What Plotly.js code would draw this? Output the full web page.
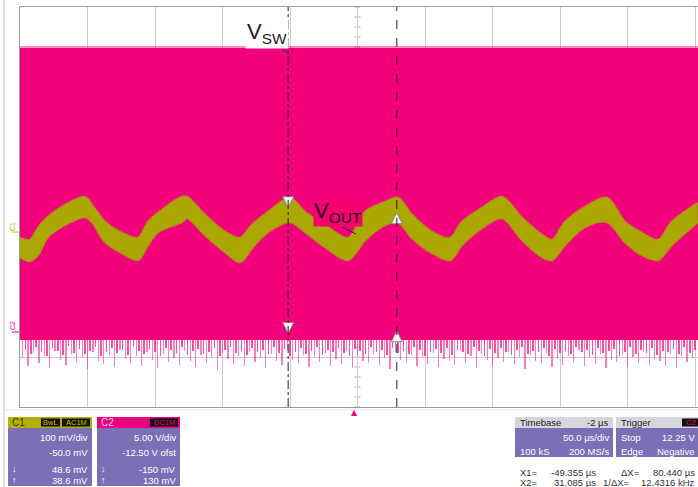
<!DOCTYPE html>
<html><head><meta charset="utf-8">
<script src="https://cdn.plot.ly/plotly-3.0.1.min.js"></script>
<style>html,body{margin:0;padding:0;background:#fff;}#chart{width:698px;height:487px;}</style>
</head><body><div id="chart"></div>
<script>
// ---------------- data ----------------
// time axis in microseconds, 50 us/div, trigger delay -2 us
const timeRange = [-248, 254.2];
// C1 : VOUT (mV) noisy band, upper and lower edges
const voutTime  = [-248,-240.6,-234.7,-227.3,-214.7,-199.9,-194.7,-185.0,-172.4,-160.6,-153.2,-145.8,-128.0,-124.3,-111.0,-96.1,-85.0,-76.1,-64.3,-48.0,-36.9,-22.1,-5.0,7.6,22.4,32.0,42.4,57.2,70.5,79.4,94.2,109.0,123.9,138.7,146.1,155.7,170.5,186.8,200.1,212.7,224.6,234.8,254];
const voutUpper = [-12,-16,8,30,54,70,54,20,-2,-12,20,38,70,70,34,0,-12,14,40,68,40,14,-12,40,60,68,34,0,-12,20,48,70,28,-6,-16,20,50,68,20,-2,-16,20,58];
const voutLower = [-50,-58,-46,-10,14,30,20,-20,-42,-56,-26,0,20,28,-6,-40,-60,-32,0,20,0,-30,-56,-16,14,20,-12,-42,-56,-26,8,28,-16,-50,-56,-26,10,20,-20,-46,-56,-26,20];
// C2 : VSW (V) switching envelope
const vswHigh = 28.4;
const vswLow  = -0.8;
// ringing spikes below the low level (V), one per acquisition slot
const spikeStart = -246, spikeStep = 4;
const vswSpikes = [
-2.6,-3.4,-2.1,-3.1,-2.4,-3.6,-1.9,-2.8,-3.3,-2.2,
-3.0,-2.5,-3.7,-2.0,-2.9,-3.2,-2.3,-3.5,-1.8,-2.7,
-3.1,-2.4,-3.4,-2.0,-2.8,-3.6,-2.2,-3.0,-2.6,-3.3,
-1.9,-2.9,-3.5,-2.3,-3.1,-2.5,-3.8,-2.1,-2.7,-3.2,
-2.4,-3.4,-2.0,-3.0,-2.6,-3.6,-2.2,-2.9,-3.3,-1.8,
-2.8,-3.1,-2.3,-3.5,-2.5,-3.0,-2.1,-3.4,-2.7,-3.2,
-1.9,-3.6,-2.4,-2.9,-3.1,-2.2,-3.3,-2.6,-3.7,-2.0,
-2.8,-3.0,-2.3,-3.4,-2.5,-3.2,-2.1,-3.5,-2.7,-2.9,
-3.3,-1.9,-3.1,-2.4,-3.6,-2.2,-2.8,-3.4,-2.6,-3.0,
-2.0,-3.2,-2.5,-3.7,-2.3,-2.9,-3.1,-2.1,-3.5,-2.7,
-3.3,-2.4,-3.0,-1.8,-3.4,-2.6,-3.2,-2.2,-3.6,-2.8,
-3.0,-2.3,-3.5,-2.5,-3.1,-2.0,-3.3,-2.7,-2.9,-3.4,
-2.2,-3.6,-2.4,-3.0,-2.6];
// shorter, denser ringing between the long spikes (V)
const vswSpikes2 = [
-1.8,-2.2,-1.5,-2.0,-2.4,-1.6,-1.9,-2.3,-1.4,-2.1,
-1.7,-2.2,-1.9,-1.5,-2.4,-2.0,-1.6,-2.1,-1.8,-2.3,
-1.5,-1.9,-2.2,-1.7,-2.0,-2.4,-1.6,-1.8,-2.1,-1.5,
-2.3,-1.9,-1.7,-2.2,-2.0,-1.6,-2.4,-1.8,-1.5,-2.1,
-1.9,-2.3,-1.6,-2.0,-1.8,-2.2,-1.5,-2.1,-1.7,-2.4,
-2.0,-1.6,-2.2,-1.9,-1.5,-2.3,-1.8,-2.0,-1.6,-2.1,
-2.4,-1.7,-1.9,-2.2,-1.5,-2.0,-1.8,-2.3,-1.6,-2.1,
-1.9,-2.2,-1.5,-1.8,-2.4,-2.0,-1.7,-2.1,-1.6,-2.3,
-1.8,-2.0,-2.2,-1.5,-1.9,-2.4,-1.7,-2.1,-1.6,-2.0,
-2.3,-1.8,-1.5,-2.2,-1.9,-2.0,-1.6,-2.4,-1.7,-2.1,
-1.9,-2.2,-1.5,-2.0,-1.8,-2.3,-1.6,-2.1,-1.9,-1.7,
-2.4,-2.0,-1.5,-2.2,-1.8,-2.1,-1.6,-2.3,-1.9,-2.0,
-1.7,-2.2,-1.5,-2.1,-1.8];
// cursors
const cursorTimes = [-49.355, 31.085];          // X1, X2 (us)
const cursorC1 = [48.6, 38.6];                    // mV
const cursorC2 = [-0.150, 0.130];                 // V
const triggerTime = 0;
// panel texts
const c1Info = ["100 mV/div", "-50.0 mV", "48.6 mV", "38.6 mV"];
const c2Info = ["5.00 V/div", "-12.50 V ofst", "-150 mV", "130 mV"];
const tbInfo = ["Timebase", "-2 µs", "50.0 µs/div", "100 kS", "200 MS/s"];
const trInfo = ["Trigger", "C2", "Stop", "12.25 V", "Edge", "Negative"];
const readout = ["X1=", "-49.355 µs", "ΔX=", "80.440 µs", "X2=", "31.085 µs", "1/ΔX=", "12.4316 kHz"];

// ---------------- styling ----------------
const MAG = '#f2007c', YEL = '#aaa800', PURP = '#7a70b6', FONT = 'Liberation Sans, Arial, sans-serif';
const W = 678, H = 400, L = 20, T = 7;
const px = x => (x - L) / W;
const py = y => (T + H - y) / H;

const spikeX = vswSpikes.map((_, i) => spikeStart + i * spikeStep);
const spikeY = vswSpikes.map(v => v - vswLow);
const spike2X = vswSpikes2.map((_, i) => spikeStart + spikeStep / 2 + i * spikeStep);
const spike2Y = vswSpikes2.map(v => v - vswLow);

const traces = [
  { x: [timeRange[0], timeRange[1], timeRange[1], timeRange[0]], y: [vswLow, vswLow, vswHigh, vswHigh],
    type: 'scatter', mode: 'lines', fill: 'toself', fillcolor: MAG, line: {color: MAG, width: 0}, yaxis: 'y', hoverinfo: 'skip' },
  { x: [timeRange[0], timeRange[1]], y: [vswHigh, vswHigh], type: 'scatter', mode: 'lines',
    line: {color: 'rgba(242,0,124,0.45)', width: 4}, yaxis: 'y', hoverinfo: 'skip' },
  { x: spike2X, y: spike2Y, base: vswLow, type: 'bar', width: 1.3, marker: {color: 'rgba(242,0,124,0.7)', line: {width: 0}},
    yaxis: 'y', hoverinfo: 'skip' },
  { x: spikeX, y: spikeY, base: vswLow, type: 'bar', width: 0.9, marker: {color: 'rgba(242,0,124,0.5)', line: {width: 0}},
    yaxis: 'y', hoverinfo: 'skip' },
  { x: [cursorTimes[0]], y: [cursorC2[0]], type: 'scatter', mode: 'markers', yaxis: 'y', hoverinfo: 'skip',
    marker: {symbol: 'arrow-down', size: 11, color: '#f0f0f0', line: {color: '#8a8a8a', width: 1}} },
  { x: [cursorTimes[1]], y: [cursorC2[1]], type: 'scatter', mode: 'markers', yaxis: 'y', hoverinfo: 'skip',
    marker: {symbol: 'arrow-up', size: 11, color: '#f0f0f0', line: {color: '#8a8a8a', width: 1}} },
  { x: voutTime, y: voutUpper, type: 'scatter', mode: 'lines', line: {color: 'rgba(170,168,0,0.8)', width: 2.5, shape: 'spline', smoothing: 0.9}, yaxis: 'y2', hoverinfo: 'skip' },
  { x: voutTime, y: voutLower, type: 'scatter', mode: 'lines', fill: 'tonexty', fillcolor: YEL,
    line: {color: 'rgba(170,168,0,0.8)', width: 2.5, shape: 'spline', smoothing: 0.9}, yaxis: 'y2', hoverinfo: 'skip' },
  { x: [cursorTimes[0]], y: [cursorC1[0]], type: 'scatter', mode: 'markers', yaxis: 'y2', hoverinfo: 'skip',
    marker: {symbol: 'arrow-down', size: 11, color: '#f0f0f0', line: {color: '#8a8a8a', width: 1}} },
  { x: [cursorTimes[1]], y: [cursorC1[1]], type: 'scatter', mode: 'markers', yaxis: 'y2', hoverinfo: 'skip',
    marker: {symbol: 'arrow-up', size: 11, color: '#f0f0f0', line: {color: '#8a8a8a', width: 1}} }
];

const shapes = [];
const ann = [];
function rect(x0, y0, x1, y1, fill) {
  shapes.push({type: 'rect', xref: 'paper', yref: 'paper', x0: px(x0), x1: px(x1), y0: py(y0), y1: py(y1),
    fillcolor: fill, line: {width: 0}, layer: 'above'});
}
function txt(s, x, y, anchor, color, size, extra) {
  ann.push(Object.assign({text: s, xref: 'paper', yref: 'paper', x: px(x), y: py(y), xanchor: anchor, yanchor: 'middle',
    showarrow: false, font: {family: FONT, size: size || 9.5, color: color || '#fff'}}, extra || {}));
}

// outer separators
shapes.push({type: 'line', xref: 'paper', yref: 'paper', x0: px(4), x1: px(4), y0: py(0), y1: py(487), line: {color: '#c8c8c8', width: 1}});
shapes.push({type: 'line', xref: 'paper', yref: 'paper', x0: px(4), x1: px(698), y0: py(410), y1: py(410), line: {color: '#e6e6e6', width: 1}});

// center cross ticks (below traces)
for (let k = -20; k <= 20; k++) {
  const v = 12.5 + k * 1;
  shapes.push({type: 'line', xref: 'x', yref: 'y', x0: 2 - 2.2, x1: 2 + 2.2, y0: v, y1: v, line: {color: '#b0b0b0', width: 1}, layer: 'below'});
}
for (let k = -25; k <= 25; k++) {
  const t = 2 + k * 10;
  shapes.push({type: 'line', xref: 'x', yref: 'y', x0: t, x1: t, y0: 12.5 - 0.3, y1: 12.5 + 0.3, line: {color: '#b0b0b0', width: 1}, layer: 'below'});
}

// cursors
shapes.push({type: 'line', xref: 'x', yref: 'paper', x0: cursorTimes[0], x1: cursorTimes[0], y0: 0, y1: 1,
  line: {color: 'rgba(40,20,40,0.8)', width: 1.2, dash: 'dashdot'}, layer: 'above'});
shapes.push({type: 'line', xref: 'x', yref: 'paper', x0: cursorTimes[1], x1: cursorTimes[1], y0: 0, y1: 1,
  line: {color: 'rgba(40,20,40,0.8)', width: 1.2, dash: 'dash'}, layer: 'above'});

// trigger marker
ann.push({x: triggerTime, xref: 'x', y: py(412), yref: 'paper', text: '▲', showarrow: false,
  font: {family: 'DejaVu Sans', size: 8, color: MAG}, xanchor: 'center', yanchor: 'middle'});

// channel ground markers
ann.push({x: px(12), xref: 'paper', y: 0, yref: 'y2', text: 'C1', textangle: -90, showarrow: false, yshift: 5,
  font: {family: FONT, size: 7, color: '#b8b400'}, xanchor: 'center', yanchor: 'middle'});
shapes.push({type: 'line', xref: 'paper', yref: 'y2', x0: px(12), x1: px(19), y0: 0, y1: 0, line: {color: '#c8c400', width: 1}});
ann.push({x: px(12), xref: 'paper', y: 0, yref: 'y', text: 'C2', textangle: -90, showarrow: false, yshift: 6,
  font: {family: FONT, size: 7, color: MAG}, xanchor: 'center', yanchor: 'middle'});
shapes.push({type: 'line', xref: 'paper', yref: 'y', x0: px(12), x1: px(19), y0: 0, y1: 0, line: {color: MAG, width: 1}});

// waveform labels
ann.push({text: 'V<sub>SW</sub>', xref: 'paper', yref: 'paper', x: px(267), y: py(33), showarrow: false,
  xanchor: 'center', yanchor: 'middle', bgcolor: '#ffffff', font: {family: FONT, size: 22, color: '#1e1e1e'}});
shapes.push({type: 'line', xref: 'paper', yref: 'paper', x0: px(281), x1: px(289), y0: py(48), y1: py(54), line: {color: '#333', width: 1}});
ann.push({text: 'V<sub>OUT</sub>', xref: 'paper', yref: 'paper', x: px(338), y: py(212), showarrow: false,
  xanchor: 'center', yanchor: 'middle', bgcolor: '#f4006f', borderpad: 0, font: {family: FONT, size: 22, color: '#2a0a1c'}});
shapes.push({type: 'line', xref: 'paper', yref: 'paper', x0: px(342), x1: px(356), y0: py(227), y1: py(234), line: {color: '#3a0a24', width: 1}, layer: 'above'});

// ----- C1 panel
rect(8, 417, 92, 486, PURP);
rect(8, 417, 92, 428, '#b5b000');
rect(41, 418.5, 60, 426.5, '#111');
rect(62, 418.5, 90, 426.5, '#111');
txt('C1', 10, 422.5, 'left', '#3a3a00', 10);
txt('BwL', 50.5, 422.5, 'center', '#c8c000', 7.5);
txt('AC1M', 76, 422.5, 'center', '#c8c000', 7.5);
txt(c1Info[0], 90, 438, 'right');
txt(c1Info[1], 90, 452, 'right');
txt('↓', 10, 469, 'left', '#fff', 9);
txt(c1Info[2], 90, 469, 'right');
txt('↑', 10, 480, 'left', '#fff', 9);
txt(c1Info[3], 90, 480, 'right');
// ----- C2 panel
rect(97, 417, 180, 486, PURP);
rect(97, 417, 180, 428, '#e8007c');
rect(150, 418.5, 178, 426.5, '#111');
txt('C2', 99, 422.5, 'left', '#ffd0e8', 10);
txt('DC1M', 164, 422.5, 'center', '#f0007c', 7.5);
txt(c2Info[0], 178, 438, 'right');
txt(c2Info[1], 178, 452, 'right');
txt('↓', 99, 469, 'left', '#fff', 9);
txt(c2Info[2], 178, 469, 'right');
txt('↑', 99, 480, 'left', '#fff', 9);
txt(c2Info[3], 178, 480, 'right');
// ----- Timebase panel
rect(515, 417, 613, 457, PURP);
rect(515, 417, 613, 428, '#d6d6de');
txt(tbInfo[0], 518, 422.5, 'left', '#222', 9.5);
txt(tbInfo[1], 611, 422.5, 'right', '#222', 9.5);
txt(tbInfo[2], 611, 438, 'right');
txt(tbInfo[3], 518, 451, 'left');
txt(tbInfo[4], 611, 451, 'right');
// ----- Trigger panel
rect(616, 417, 698, 457, PURP);
rect(616, 417, 698, 428, '#d6d6de');
rect(682, 418.5, 698, 426.5, '#111');
txt(trInfo[0], 619, 422.5, 'left', '#222', 9.5);
txt(trInfo[1], 684, 422.5, 'left', MAG, 7.5);
txt(trInfo[2], 619, 438, 'left');
txt(trInfo[3], 697, 438, 'right');
txt(trInfo[4], 619, 451, 'left');
txt(trInfo[5], 697, 451, 'right');
// ----- cursor readout
txt(readout[0], 518, 472, 'left', '#333', 9.5);
txt(readout[1], 598, 472, 'right', '#333', 9.5);
txt(readout[2], 619, 472, 'left', '#333', 9.5);
txt(readout[3], 697, 472, 'right', '#333', 9.5);
txt(readout[4], 518, 482, 'left', '#333', 9.5);
txt(readout[5], 598, 482, 'right', '#333', 9.5);
txt(readout[6], 601, 482, 'left', '#333', 9.5);
txt(readout[7], 697, 482, 'right', '#333', 9.5);

const layout = {
  width: 698, height: 487, margin: {l: 20, r: 0, t: 7, b: 80, pad: 0},
  paper_bgcolor: '#fff', plot_bgcolor: '#fff', showlegend: false, barmode: 'overlay', bargap: 0,
  xaxis: {range: timeRange, tick0: -248, dtick: 50, showgrid: true, gridcolor: '#cdcdcd', gridwidth: 1,
    zeroline: false, showticklabels: false, ticks: '', showline: true, linecolor: '#9a9a9a', linewidth: 1, mirror: true, fixedrange: true},
  yaxis: {range: [-7.5, 32.5], tick0: -7.5, dtick: 5, showgrid: true, gridcolor: '#cdcdcd', gridwidth: 1,
    zeroline: false, showticklabels: false, ticks: '', showline: true, linecolor: '#9a9a9a', linewidth: 1, mirror: false, fixedrange: true},
  yaxis2: {range: [-350, 450], overlaying: 'y', showgrid: false, zeroline: false, showticklabels: false, ticks: '', showline: false, fixedrange: true},
  shapes: shapes, annotations: ann
};
Plotly.newPlot('chart', traces, layout, {staticPlot: true, displayModeBar: false});
</script></body></html>
